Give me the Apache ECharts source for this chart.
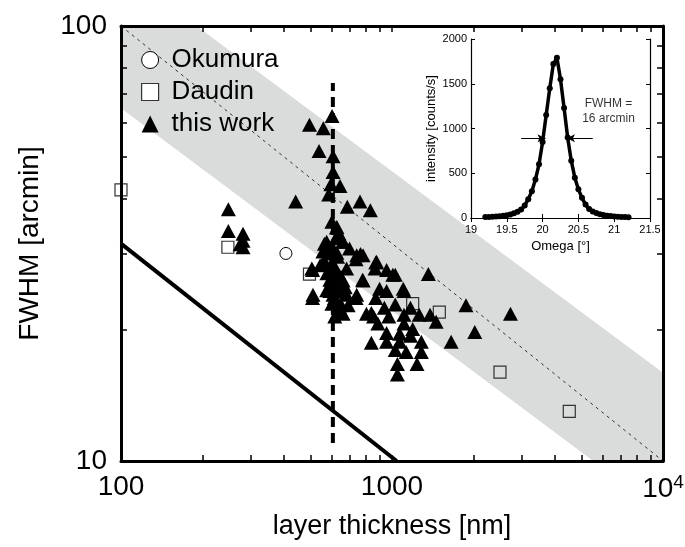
<!DOCTYPE html>
<html><head><meta charset="utf-8">
<script src="https://cdn.jsdelivr.net/npm/echarts@6/dist/echarts.min.js"></script>
<style>html,body{margin:0;padding:0;background:#fff}#c{width:685px;height:547px}</style>
</head><body><div id="c"></div>
<script>
// ---- main axes ----
const xLabelValues = [100, 1000, 10000];
const yLabelValues = [10, 100];
const xMinorTicks = [200,300,400,500,600,700,800,900,1000,2000,3000,4000,5000,6000,7000,8000,9000];
const yMinorTicks = [20,30,40,50,60,70,80,90];

// ---- data (layer thickness nm, FWHM arcmin) ----
const okumura = [[406, 30.0]];
const daudin = [[100, 42.0],[248, 31.0],[496, 26.9],[1192, 23.0],[1495, 22.0],[2503, 16.0],[4510, 13.0]];
const thisWork = [
 [601,62.1],[496,59.3],[558,58.2],[538,51.6],[606,50.2],[606,46.2],[595,43.3],[643,42.9],[584,41.0],
 [441,39.5],[762,39.5],[684,38.4],[832,37.7],[249,37.9],[249,33.8],[282,33.3],[282,32.1],[282,31.0],[275,31.5],
 [624,34.4],[636,33.4],[659,31.9],[563,31.6],[606,30.8],[697,30.8],[765,29.9],[737,29.1],[563,28.8],
 [871,28.6],[509,27.5],[606,27.5],[955,27.5],[1028,26.8],[648,26.5],[779,26.1],[1362,26.9],[590,26.1],
 [590,24.6],[672,25.1],[955,24.6],[1107,24.6],[509,23.7],[613,23.7],[737,23.7],[871,23.7],[648,22.9],
 [655,21.9],[839,21.9],[937,22.5],[1028,22.9],[1170,22.5],[1875,22.8],[855,21.5],[973,21.5],[1107,21.7],
 [1260,21.7],[1382,21.7],[2736,21.8],[887,20.7],[1107,20.7],[1455,20.9],[1192,20.1],[955,19.7],[1067,19.6],
 [1170,19.4],[2020,19.8],[839,18.7],[955,18.8],[1067,18.8],[1283,18.8],[1653,18.8],[1028,18.0],[1128,17.8],
 [1283,17.8],[1047,16.7],[1237,16.7],[1047,15.8],
 [600,35.5],[620,32.5],[580,30.0],[630,29.5],[600,28.5],[620,26.5],[575,27.0],[610,25.5],[625,24.5],
 [600,23.0],[640,22.5],[615,21.5],
 [626,34.5],[574,31.9],[660,31.9],[556,30.3],[626,30.1],[741,29.7],[782,29.7],[877,28.7],[543,28.2],
 [616,27.9],[680,27.7],[506,27.7],[866,27.7],[1007,26.8],[598,26.0],[660,26.0],[782,26.0],[574,24.7],
 [642,24.9],[900,24.9],[1100,24.9],[511,24.1],[606,24.1],[680,24.1],[741,24.1],[642,22.8],[689,22.8],
 [660,21.8],[805,21.8]
];
const dottedLine = [[100, 100],[10000, 10]];
const thickLine = [[100, 31.6],[1040, 10]];
const dashedLine = [[605, 11.0],[605, 74]];
const bandPolygon = [[100,100],[190,100],[10000,15.96],[10000,10],[5530,10],[100,64.7]];

// ---- inset data (Omega deg, intensity counts/s) ----
const insetOmega = [19.20,19.25,19.30,19.35,19.40,19.45,19.50,19.55,19.60,19.65,19.70,19.75,19.80,19.85,19.90,19.95,
 20.00,20.05,20.10,20.15,20.20,20.25,20.30,20.35,20.40,20.45,20.50,20.55,20.60,20.65,20.70,20.75,20.80,20.85,20.90,20.95,
 21.00,21.05,21.10,21.15,21.20];
const insetIntensity = [10,12,14,17,20,25,32,40,52,70,95,140,210,300,430,600,
 850,1150,1450,1720,1790,1550,1230,900,640,450,320,225,150,100,72,55,42,33,26,21,
 18,15,12,10,9];
const insetXTicks = [19,19.5,20,20.5,21,21.5];
const insetYTicks = [0,500,1000,1500,2000];
const fwhmArrows = [[[19.70,890],[20.04,890]],[[20.70,890],[20.34,890]]];
const fwhmTextPos = [20.92, 1195];
const fwhmText = 'FWHM =\n16 arcmin';

const FONT = 'Liberation Sans, Arial, sans-serif';
const chart = echarts.init(document.getElementById('c'), null, {renderer:'canvas'});

const mainTick = (vals) => ({show:true, inside:true, length:6, lineStyle:{color:'#000', width:1.5}, customValues: vals});
const insetTick = (vals) => ({show:true, inside:true, length:4, lineStyle:{color:'#000', width:1}, customValues: vals});

const option = {
  animation:false,
  backgroundColor:'#fff',
  textStyle:{fontFamily:FONT},
  grid:[
    {left:121, right:22, top:26, bottom:86, outerBoundsMode:'none'},
    {left:471, top:39, width:179, height:179, outerBoundsMode:'none'}
  ],
  legend:{
    orient:'vertical', left:136, top:42, itemWidth:17, itemHeight:17, itemGap:6,
    textStyle:{fontSize:26, color:'#000', fontFamily:FONT, padding:[0,0,0,8]},
    data:[
      {name:'Okumura', icon:'circle', itemStyle:{color:'#fff', borderColor:'#000', borderWidth:1, opacity:1}},
      {name:'Daudin', icon:'rect', itemStyle:{color:'#fff', borderColor:'#333', borderWidth:1.2, opacity:1}},
      {name:'this work', icon:'triangle', itemStyle:{color:'#000', opacity:1}}
    ]
  },
  xAxis:[
    {type:'log', logBase:10, min:100, max:10000, gridIndex:0, position:'bottom', z:10,
     axisLine:{show:true, lineStyle:{color:'#000', width:3}},
     axisTick:mainTick(xMinorTicks), splitLine:{show:false}, minorTick:{show:false},
     axisLabel:{show:true, margin:12, color:'#000', customValues:xLabelValues,
       formatter:(v)=> v===10000 ? '{b|10}{s|4}' : '{b|'+v+'}',
       rich:{b:{fontSize:28, fontFamily:FONT, color:'#000'}, s:{fontSize:19, fontFamily:FONT, color:'#000', padding:[0,0,14,0]}}},
     name:'layer thickness [nm]', nameLocation:'middle', nameGap:52,
     nameTextStyle:{fontSize:27, color:'#000', fontFamily:FONT}},
    {type:'log', logBase:10, min:100, max:10000, gridIndex:0, position:'top', z:10,
     axisLine:{show:true, lineStyle:{color:'#000', width:3}},
     axisTick:mainTick(xMinorTicks), axisLabel:{show:false}, splitLine:{show:false}},
    {type:'value', min:19, max:21.5, interval:0.5, gridIndex:1, position:'bottom', z:10,
     axisLine:{show:true, lineStyle:{color:'#000', width:1.2}},
     axisTick:insetTick(insetXTicks), splitLine:{show:false},
     axisLabel:{show:true, fontSize:11, color:'#000', margin:6, customValues:insetXTicks, formatter:(v)=>String(v)},
     name:'Omega [°]', nameLocation:'middle', nameGap:22,
     nameTextStyle:{fontSize:13, color:'#000', fontFamily:FONT}},
    {type:'value', min:19, max:21.5, interval:0.5, gridIndex:1, position:'top', z:10,
     axisLine:{show:true, lineStyle:{color:'#000', width:1.2}},
     axisTick:insetTick(insetXTicks), axisLabel:{show:false}, splitLine:{show:false}}
  ],
  yAxis:[
    {type:'log', logBase:10, min:10, max:100, gridIndex:0, position:'left', z:10,
     axisLine:{show:true, lineStyle:{color:'#000', width:3}},
     axisTick:mainTick(yMinorTicks), splitLine:{show:false}, minorTick:{show:false},
     axisLabel:{show:true, margin:14, fontSize:28, color:'#000', customValues:yLabelValues},
     name:'FWHM [arcmin]', nameLocation:'middle', nameGap:77, nameRotate:90,
     nameTextStyle:{fontSize:28, color:'#000', fontFamily:FONT}},
    {type:'log', logBase:10, min:10, max:100, gridIndex:0, position:'right', z:10,
     axisLine:{show:true, lineStyle:{color:'#000', width:3}},
     axisTick:mainTick(yMinorTicks), axisLabel:{show:false}, splitLine:{show:false}},
    {type:'value', min:0, max:2000, interval:500, gridIndex:1, position:'left', z:10,
     axisLine:{show:true, lineStyle:{color:'#000', width:1.2}},
     axisTick:insetTick(insetYTicks), splitLine:{show:false},
     axisLabel:{show:true, fontSize:11, color:'#000', margin:4, customValues:insetYTicks, formatter:(v)=>String(v)},
     name:'intensity [counts/s]', nameLocation:'middle', nameGap:33, nameRotate:90,
     nameTextStyle:{fontSize:13, color:'#000', fontFamily:FONT}},
    {type:'value', min:0, max:2000, interval:500, gridIndex:1, position:'right', z:10,
     axisLine:{show:true, lineStyle:{color:'#000', width:1.2}},
     axisTick:insetTick(insetYTicks), axisLabel:{show:false}, splitLine:{show:false}}
  ],
  series:[
    {type:'custom', name:'band', xAxisIndex:0, yAxisIndex:0, silent:true, z:1, clip:true,
     data:[bandPolygon[0]],
     renderItem:(params, api)=>{
       const pts = bandPolygon.map(p => api.coord(p));
       return {type:'polygon', shape:{points:pts}, style:{fill:'#dadbdb'}};
     }},
    {type:'line', name:'dotted', xAxisIndex:0, yAxisIndex:0, data:dottedLine, symbol:'none', silent:true, z:2,
     lineStyle:{color:'#333', width:1, type:[3,4]}},
    {type:'line', name:'thick', xAxisIndex:0, yAxisIndex:0, data:thickLine, symbol:'none', silent:true, z:3,
     lineStyle:{color:'#000', width:4}},
    {type:'line', name:'dashed', xAxisIndex:0, yAxisIndex:0, data:dashedLine, symbol:'none', silent:true, z:3,
     lineStyle:{color:'#000', width:4, type:[10,6]}},
    {type:'scatter', name:'Daudin', xAxisIndex:0, yAxisIndex:0, data:daudin, symbol:'rect', symbolSize:12, z:4,
     itemStyle:{color:'rgba(0,0,0,0)', borderColor:'#333', borderWidth:1.2, opacity:1}},
    {type:'scatter', name:'this work', xAxisIndex:0, yAxisIndex:0, data:thisWork, symbol:'triangle', symbolSize:[15,14], z:5,
     itemStyle:{color:'#000', opacity:1}},
    {type:'scatter', name:'Okumura', xAxisIndex:0, yAxisIndex:0, data:okumura, symbol:'circle', symbolSize:12, z:5,
     itemStyle:{color:'#fff', borderColor:'#000', borderWidth:1, opacity:1}},
    {type:'line', name:'inset', xAxisIndex:2, yAxisIndex:2, data:insetOmega.map((x,i)=>[x, insetIntensity[i]]),
     symbol:'circle', symbolSize:6, showAllSymbol:true, z:5,
     lineStyle:{color:'#000', width:3.5}, itemStyle:{color:'#000', opacity:1},
     markLine:{silent:true, symbol:['none','arrow'], symbolSize:[6,8], label:{show:false},
       lineStyle:{color:'#000', width:1, type:'solid'},
       data: fwhmArrows.map(a => [{coord:a[0]},{coord:a[1]}])}},
    {type:'scatter', name:'fwhmLabel', xAxisIndex:2, yAxisIndex:2, data:[fwhmTextPos], symbolSize:0, silent:true, z:6,
     label:{show:true, position:'inside', formatter:fwhmText, fontSize:12, lineHeight:15, color:'#000', fontFamily:FONT, align:'center'}}
  ]
};
chart.setOption(option);
</script>
</body></html>
